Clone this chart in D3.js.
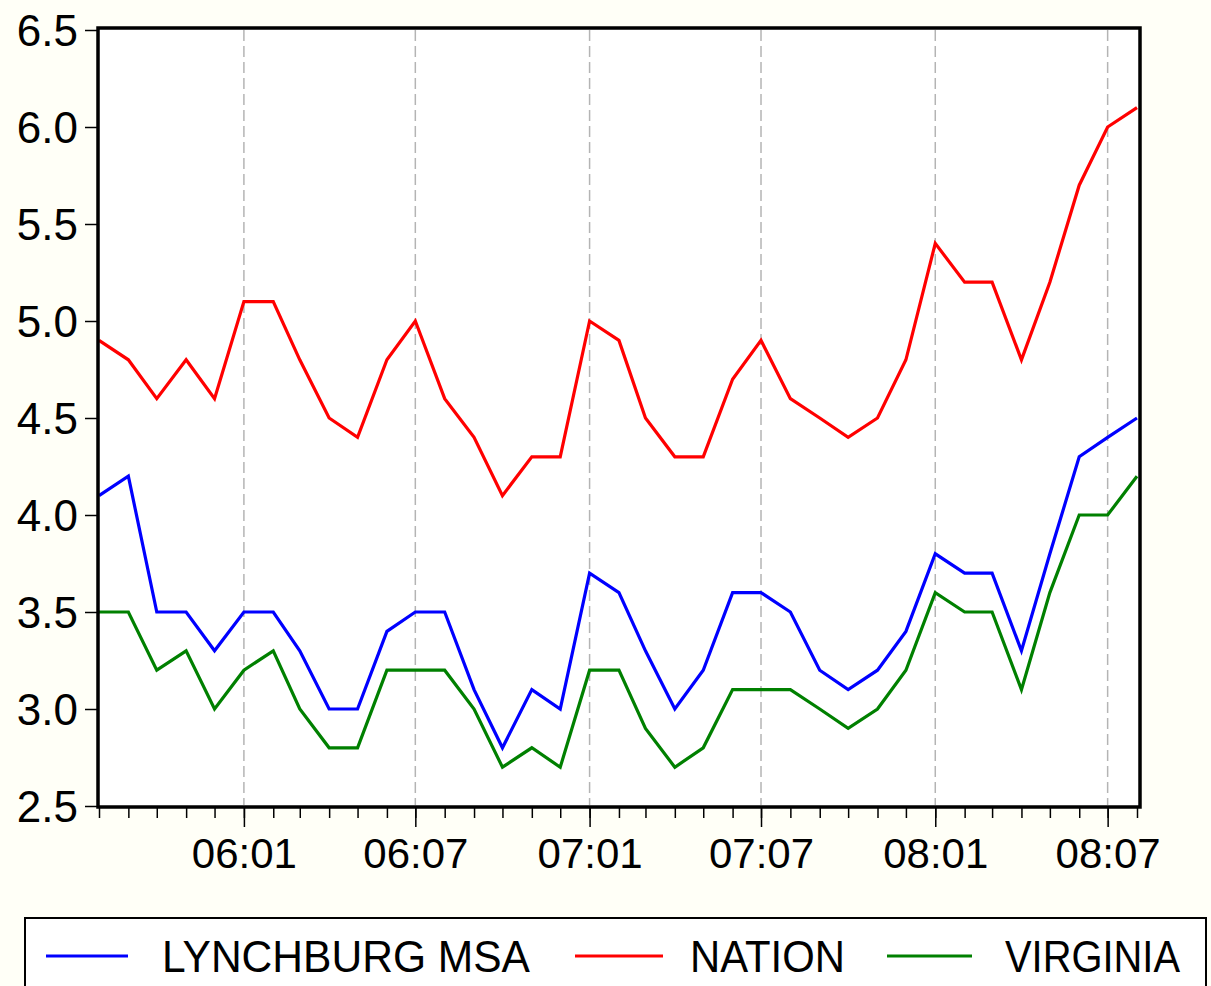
<!DOCTYPE html>
<html>
<head>
<meta charset="utf-8">
<script src="https://cdn.jsdelivr.net/npm/d3@7"></script>
<style>
  body { margin: 0; background: #fffff7; }
  svg { display: block; font-family: "Liberation Sans", Arial, sans-serif; }
</style>
</head>
<body>
<svg id="chart" width="1211" height="986"></svg>
<script>
// Monthly unemployment rates, 2005:08 through 2008:08
let START_MONTH = new Date(2005, 7, 1);
let END_MONTH = new Date(2008, 7, 1);

let lynchburg = [4.1, 4.2, 3.5, 3.5, 3.3, 3.5, 3.5, 3.3, 3.0, 3.0, 3.4, 3.5, 3.5, 3.1, 2.8, 3.1, 3.0, 3.7, 3.6, 3.3,
                 3.0, 3.2, 3.6, 3.6, 3.5, 3.2, 3.1, 3.2, 3.4, 3.8, 3.7, 3.7, 3.3, 3.8, 4.3, 4.4, 4.5];
let nation    = [4.9, 4.8, 4.6, 4.8, 4.6, 5.1, 5.1, 4.8, 4.5, 4.4, 4.8, 5.0, 4.6, 4.4, 4.1, 4.3, 4.3, 5.0, 4.9, 4.5,
                 4.3, 4.3, 4.7, 4.9, 4.6, 4.5, 4.4, 4.5, 4.8, 5.4, 5.2, 5.2, 4.8, 5.2, 5.7, 6.0, 6.1];
let virginia  = [3.5, 3.5, 3.2, 3.3, 3.0, 3.2, 3.3, 3.0, 2.8, 2.8, 3.2, 3.2, 3.2, 3.0, 2.7, 2.8, 2.7, 3.2, 3.2, 2.9,
                 2.7, 2.8, 3.1, 3.1, 3.1, 3.0, 2.9, 3.0, 3.2, 3.6, 3.5, 3.5, 3.1, 3.6, 4.0, 4.0, 4.2];

let seriesNames  = ["LYNCHBURG MSA", "NATION", "VIRGINIA"];
let seriesColors = ["#0000ff", "#ff0000", "#008000"];
let yTicks = [2.5, 3.0, 3.5, 4.0, 4.5, 5.0, 5.5, 6.0, 6.5];

let months = d3.timeMonth.range(START_MONTH, d3.timeMonth.offset(END_MONTH, 1));
let majorMonths = months.filter(d => d.getMonth() == 0 || d.getMonth() == 6);

let svg = d3.select('#chart');

// plot frame
let LEFT = 98, RIGHT = 1140, TOP = 28, BOTTOM = 807;

let xScale = d3.scaleTime().domain([START_MONTH, END_MONTH]).range([99, 1137]);
let yScale = d3.scaleLinear().domain([2.5, 6.5]).range([806, 30]);

svg.append('rect')
    .attr('x', LEFT).attr('y', TOP)
    .attr('width', RIGHT - LEFT).attr('height', BOTTOM - TOP)
    .attr('fill', '#ffffff');

// dashed vertical grid at major months
svg.append('g')
    .selectAll('line')
    .data(majorMonths)
    .join('line')
    .attr('x1', d => xScale(d)).attr('x2', d => xScale(d))
    .attr('y1', TOP + 2).attr('y2', BOTTOM - 2)
    .attr('stroke', '#b4b4b4')
    .attr('stroke-width', 1.5)
    .attr('stroke-dasharray', '11,5');

// Series lines
let allSeries = [lynchburg, nation, virginia];
let line = d3.line()
    .x((d, i) => xScale(months[i]))
    .y(d => yScale(d));

svg.append('g')
    .selectAll('path')
    .data(allSeries)
    .join('path')
    .attr('d', d => line(d))
    .attr('fill', 'none')
    .attr('stroke', (d, i) => seriesColors[i])
    .attr('stroke-width', 3.2)
    .attr('stroke-linejoin', 'miter');

// Y axis
let yAxis = d3.axisLeft(yScale)
    .tickValues(yTicks)
    .tickFormat(d3.format('.1f'))
    .tickSize(13)
    .tickPadding(7);

let yG = svg.append('g')
    .attr('transform', `translate(${LEFT},0)`)
    .call(yAxis);
yG.select('.domain').remove();
yG.selectAll('line').attr('stroke', '#000').attr('stroke-width', 1.5);
yG.selectAll('text')
    .attr('font-size', 44)
    .attr('font-family', '"Liberation Sans", Arial, sans-serif')
    .attr('fill', '#000')
    .attr('dy', '0.36em');

// X axis: minor ticks every month, longer major ticks with labels
let xMinor = d3.axisBottom(xScale)
    .tickValues(months)
    .tickFormat('')
    .tickSize(11);
let xMinorG = svg.append('g')
    .attr('transform', `translate(0,${BOTTOM})`)
    .call(xMinor);
xMinorG.select('.domain').remove();
xMinorG.selectAll('line').attr('stroke', '#000').attr('stroke-width', 1.5);

let xMajor = d3.axisBottom(xScale)
    .tickValues(majorMonths)
    .tickFormat(d3.timeFormat('%y:%m'))
    .tickSize(20)
    .tickPadding(11);
let xMajorG = svg.append('g')
    .attr('transform', `translate(0,${BOTTOM})`)
    .call(xMajor);
xMajorG.select('.domain').remove();
xMajorG.selectAll('line').attr('stroke', '#000').attr('stroke-width', 1.5);
xMajorG.selectAll('text')
    .attr('font-size', 42)
    .attr('font-family', '"Liberation Sans", Arial, sans-serif')
    .attr('fill', '#000');

// heavy frame drawn last
svg.append('rect')
    .attr('x', LEFT).attr('y', TOP)
    .attr('width', RIGHT - LEFT).attr('height', BOTTOM - TOP)
    .attr('fill', 'none')
    .attr('stroke', '#000')
    .attr('stroke-width', 3.5);

// Legend box, running off the bottom of the picture
let legend = svg.append('g');
legend.append('rect')
    .attr('x', 25).attr('y', 918)
    .attr('width', 1181).attr('height', 100)
    .attr('fill', '#ffffff')
    .attr('stroke', '#000')
    .attr('stroke-width', 2);

let legendItems = [
    {lx1: 46, lx2: 128, tx: 162, tw: 368},
    {lx1: 575, lx2: 663, tx: 690, tw: 155},
    {lx1: 887, lx2: 972, tx: 1005, tw: 175}
];

legend.selectAll('line')
    .data(legendItems)
    .join('line')
    .attr('x1', d => d.lx1).attr('x2', d => d.lx2)
    .attr('y1', 956).attr('y2', 956)
    .attr('stroke', (d, i) => seriesColors[i])
    .attr('stroke-width', 3);

legend.selectAll('text')
    .data(legendItems)
    .join('text')
    .attr('x', d => d.tx)
    .attr('y', 972)
    .attr('font-size', 45)
    .attr('textLength', d => d.tw)
    .attr('lengthAdjust', 'spacingAndGlyphs')
    .attr('fill', '#000')
    .text((d, i) => seriesNames[i]);
</script>
</body>
</html>
